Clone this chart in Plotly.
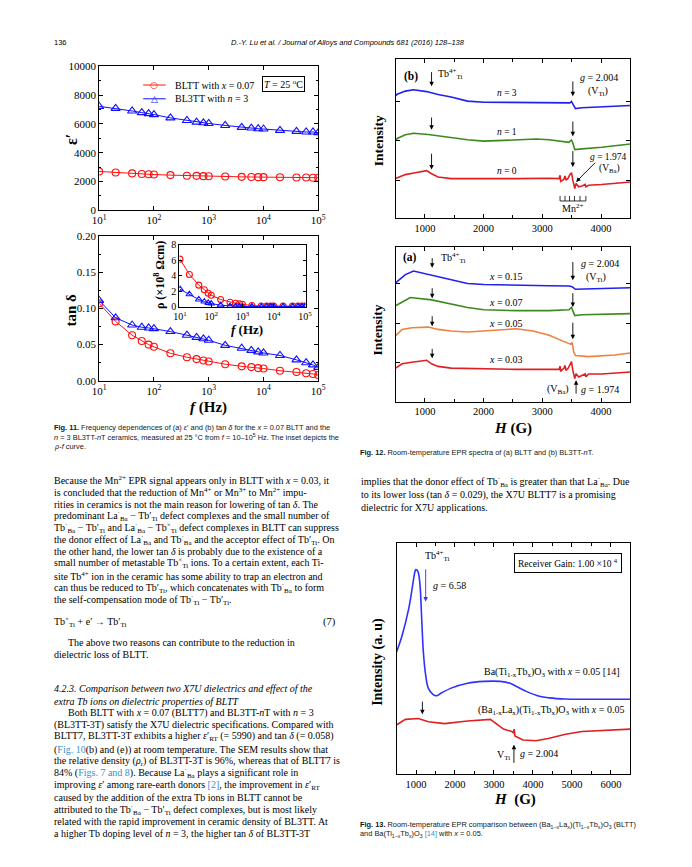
import plotly.graph_objects as go

PW, PH = 692, 867
def px(x): return x / PW
def py(y): return 1 - y / PH

SERIF = "Liberation Serif"
SANS = "Liberation Sans"
RED = "#ff1010"
BLUE = "#1010ff"
LINK = "#3a8fc8"

# ---------------- Fig. 11 data ----------------
freq = [10, 20, 40, 60, 80, 100, 200, 400, 600, 800, 1000, 2000, 4000, 6000, 8000,
        10000, 20000, 40000, 60000, 80000, 100000]
eps_bltt = [2694, 2620, 2560, 2520, 2500, 2480, 2440, 2400, 2390, 2370, 2360, 2340, 2320,
            2310, 2300, 2300, 2290, 2270, 2270, 2260, 2260]
eps_bl3tt = [7215, 7078, 6895, 6781, 6712, 6644, 6415, 6233, 6119, 6073, 6027, 5890, 5753,
             5708, 5662, 5640, 5548, 5480, 5434, 5434, 5388]
tan_bltt = [0.107, 0.082, 0.063, 0.055, 0.050, 0.047, 0.038, 0.0326, 0.030, 0.028, 0.0267,
            0.023, 0.020, 0.019, 0.0176, 0.017, 0.014, 0.0122, 0.0104, 0.0095, 0.008]
tan_bl3tt = [0.111, 0.087, 0.077, 0.074, 0.073, 0.072, 0.068, 0.063, 0.060, 0.058, 0.056,
             0.049, 0.045, 0.042, 0.040, 0.0385, 0.035, 0.029, 0.025, 0.022, 0.0186]
rho_bltt = [6.15, 4.17, 2.8, 2.2, 1.76, 1.5, 0.95, 0.6, 0.47, 0.39, 0.34, 0.17, 0.12, 0.1,
            0.1, 0.1, 0.1, 0.1, 0.1, 0.1, 0.1]
rho_bl3tt = [2.28, 1.63, 0.95, 0.69, 0.52, 0.43, 0.22, 0.09, 0.06, 0.05, 0.05, 0.05, 0.05,
             0.05, 0.05, 0.05, 0.05, 0.05, 0.05, 0.05, 0.05]
freq_ticks = [10, 100, 1000, 10000, 100000]
freq_ticktext = ["10<sup>1</sup>", "10<sup>2</sup>", "10<sup>3</sup>", "10<sup>4</sup>", "10<sup>5</sup>"]
eps_ticks = [0, 2000, 4000, 6000, 8000, 10000]
tan_ticks = [0, 0.05, 0.10, 0.15, 0.20]
rho_ticks = [0, 2, 4, 6, 8]
legend_names = ["BLTT with <i>x</i> = 0.07", "BL3TT with <i>n</i> = 3"]

# ---------------- Fig. 12(b) data (BL3TT-nT) ----------------
h_n3 = [500, 528, 667, 806, 1029, 1113, 1224, 1447, 1726, 2004, 2561, 3118, 3397, 3470, 3497,
        3520, 3553, 3564, 3675, 3954, 4500]
i_n3 = [77.2, 78.0, 80.0, 80.9, 79.7, 78.8, 77.9, 76.3, 73.7, 73.0, 72.8, 72.4, 72.2, 72.6,
        73.5, 71.9, 69.5, 69.0, 69.5, 70.1, 70.9]
h_n1 = [500, 528, 667, 806, 1057, 1224, 1447, 1726, 2004, 2561, 2896, 3118, 3230, 3453, 3497,
        3520, 3553, 3564, 3675, 4010, 4500]
i_n1 = [48.8, 50.2, 52.5, 53.5, 52.7, 51.8, 50.8, 49.4, 48.5, 49.2, 49.8, 49.4, 48.8, 47.7,
        49.2, 47.3, 43.2, 43.2, 43.6, 44.6, 46.7]
h_n0 = [500, 667, 834, 1029, 1113, 1224, 1447, 2004, 2561, 3118, 3286, 3302, 3313, 3369, 3386,
        3403, 3442, 3464, 3497, 3520, 3553, 3575, 3620, 3675, 3731, 3742, 3787, 4010, 4500]
i_n0 = [24.9, 27.4, 28.6, 29.9, 28.0, 25.9, 24.9, 24.7, 24.9, 25.1, 24.9, 27.0, 23.2, 24.5,
        26.6, 23.9, 25.3, 27.0, 28.6, 23.9, 18.7, 21.8, 19.7, 20.3, 21.2, 19.7, 20.7, 21.2, 22.8]
mn_lines = [3302, 3386, 3464, 3547, 3642, 3742]

# ---------------- Fig. 12(a) data (BLTT) ----------------
h_x15 = [500, 667, 806, 1113, 1447, 1726, 2004, 2561, 3118, 3453, 3508, 3564, 3787, 4500]
i_x15 = [76.7, 82.0, 84.3, 81.6, 78.8, 76.3, 75.6, 75.0, 74.8, 74.6, 74.2, 72.5, 72.7, 73.5]
h_x07 = [500, 750, 1113, 1447, 1726, 2004, 2561, 3118, 3453, 3497, 3520, 3553, 3675, 4500]
i_x07 = [61.9, 67.2, 65.7, 63.1, 60.8, 59.3, 58.7, 58.7, 59.3, 60.8, 58.3, 55.5, 56.1, 56.8]
h_x05 = [500, 611, 778, 1057, 1224, 1447, 1726, 2004, 2283, 2561, 2840, 3118, 3341, 3480,
         3508, 3536, 3564, 3787, 4233, 4500]
i_x05 = [42.4, 46.6, 47.7, 48.1, 46.6, 45.6, 44.9, 45.6, 46.6, 47.0, 45.6, 42.8, 39.2, 37.1,
         38.1, 31.8, 29.7, 29.0, 30.1, 31.4]
h_x03 = [500, 611, 778, 1029, 1113, 1224, 1447, 2004, 2561, 3118, 3286, 3302, 3313, 3369,
         3386, 3403, 3442, 3464, 3497, 3520, 3553, 3575, 3620, 3731, 3742, 3787, 4010, 4500]
i_x03 = [21.6, 24.4, 25.4, 26.7, 24.4, 22.7, 21.6, 21.0, 20.8, 20.8, 20.8, 22.9, 19.5, 21.6,
         23.3, 20.1, 21.6, 23.3, 25.8, 20.1, 14.8, 18.0, 15.9, 17.8, 16.0, 17.8, 17.8, 19.1]

# ---------------- Fig. 13 data ----------------
h_bto = [500, 643, 810, 880, 936, 970, 995, 1030, 1062, 1104, 1146, 1188, 1247, 1314, 1440,
         1524, 1649, 1901, 2321, 2740, 3160, 3411, 3579, 3831, 4166, 4418, 4838, 5257, 6500]
i_bto = [52.8, 59.9, 71.3, 78.0, 84.1, 87.3, 88.4, 88.0, 86.9, 81.3, 67.0, 52.8, 42.9, 37.2,
         34.4, 33.9, 35.1, 37.2, 39.3, 40.1, 40.1, 39.3, 37.9, 35.8, 33.7, 33.0, 32.5, 32.4, 32.4]
h_bltt = [500, 727, 1062, 1314, 1733, 2321, 2908, 3076, 3244, 3453, 3495, 3520, 3537, 3747,
          4083, 4418, 4838, 5257, 5761, 6500]
i_bltt = [21.3, 23.7, 24.1, 22.7, 21.9, 23.0, 23.7, 21.6, 19.5, 18.5, 18.0, 19.5, 16.6, 14.8,
          14.5, 15.6, 17.3, 18.5, 19.0, 19.5]

fig = go.Figure()

def mk_trace(x, y, color, sym, ax, size=7):
    fig.add_trace(go.Scatter(
        x=x, y=y, mode="lines+markers", showlegend=False,
        line=dict(color=color, width=1),
        marker=dict(symbol=sym, size=size, color=color, line=dict(width=1.1, color=color)),
        xaxis="x" + ax, yaxis="y" + ax))

mk_trace(freq, eps_bltt, RED, "circle-open", "")
mk_trace(freq, eps_bl3tt, BLUE, "triangle-up-open", "", 8)
mk_trace(freq, tan_bltt, RED, "circle-open", "2")
mk_trace(freq, tan_bl3tt, BLUE, "triangle-up-open", "2", 8)
mk_trace(freq, rho_bltt, RED, "circle-open", "3", 6)
mk_trace(freq, rho_bl3tt, BLUE, "triangle-up-open", "3", 6)

def line_trace(x, y, color, ax, shape="linear"):
    fig.add_trace(go.Scatter(x=x, y=y, mode="lines", showlegend=False,
                             line=dict(color=color, width=1.6, shape=shape),
                             xaxis="x" + ax, yaxis="y" + ax))

line_trace(h_n3, i_n3, "#2020f0", "4")
line_trace(h_n1, i_n1, "#3c8a1e", "4")
line_trace(h_n0, i_n0, "#e02020", "4")
line_trace(h_x15, i_x15, "#2020f0", "5")
line_trace(h_x07, i_x07, "#3c8a1e", "5")
line_trace(h_x05, i_x05, "#f08040", "5")
line_trace(h_x03, i_x03, "#e02020", "5")
line_trace(h_bto, i_bto, "#3030ff", "6", "spline")
line_trace(h_bltt, i_bltt, "#e02020", "6")

def axis(domain, anchor, fs=11, **kw):
    d = dict(domain=domain, anchor=anchor, showline=True, linecolor="black", linewidth=1,
             mirror="ticks", ticks="inside", ticklen=4, tickcolor="black", showgrid=False,
             zeroline=False, tickfont=dict(family=SERIF, size=fs, color="black"))
    d.update(kw)
    return d

XD11 = [px(86), px(310)]
XD12 = [px(389), px(629)]
MINOR_H = dict(dtick=500, tick0=500, ticks="inside", ticklen=3, tickcolor="black")
fig.update_layout(
    width=PW, height=PH, autosize=False,
    margin=dict(l=0, r=0, t=0, b=0),
    paper_bgcolor="white", plot_bgcolor="white",
    showlegend=False,
    xaxis=axis(XD11, "y", type="log", range=[1, 5], tickvals=freq_ticks, ticktext=freq_ticktext),
    yaxis=axis([py(199), py(53)], "x", range=[0, 10000], tickvals=eps_ticks,
               ticktext=[str(v) for v in eps_ticks],
               minor=dict(dtick=1000, ticks="inside", ticklen=2, tickcolor="black")),
    xaxis2=axis(XD11, "y2", type="log", range=[1, 5], tickvals=freq_ticks, ticktext=freq_ticktext),
    yaxis2=axis([py(372), py(225)], "x2", range=[0, 0.2], tickvals=tan_ticks,
                ticktext=["%.2f" % v for v in tan_ticks],
                minor=dict(dtick=0.025, ticks="inside", ticklen=2, tickcolor="black")),
    xaxis3=axis([px(168), px(297)], "y3", 10, type="log", range=[0.98, 5.02], tickvals=freq_ticks,
                ticktext=freq_ticktext, ticklen=3),
    yaxis3=axis([py(297), py(234)], "x3", 10, range=[0, 8], tickvals=rho_ticks, ticklen=3),
    xaxis4=axis(XD12, "y4", 10.5, range=[500, 4500], tickvals=[1000, 2000, 3000, 4000], minor=MINOR_H),
    yaxis4=axis([py(207), py(46)], "x4", range=[0, 100], tickvals=[23.9, 48.8, 73.4],
                showticklabels=False),
    xaxis5=axis(XD12, "y5", 10.5, range=[500, 4500], tickvals=[1000, 2000, 3000, 4000], minor=MINOR_H),
    yaxis5=axis([py(393), py(236)], "x5", range=[0, 100], tickvals=[25.4, 50.2, 76.3],
                showticklabels=False),
    xaxis6=axis([px(390), px(629)], "y6", 10.5, range=[500, 6500],
                tickvals=[1000, 2000, 3000, 4000, 5000, 6000], minor=MINOR_H),
    yaxis6=axis([py(771), py(536)], "x6", range=[0, 100], ticks="", showticklabels=False),
)

ann = []
shapes = []

def T(x, y, text, size=10.5, family=SERIF, xanchor="left", color="black", angle=0):
    ann.append(dict(x=px(x), y=py(y), xref="paper", yref="paper", text=text, showarrow=False,
                    xanchor=xanchor, yanchor="middle", textangle=angle,
                    font=dict(family=family, size=size, color=color)))

def ref(ax):
    return ("x" + ax, "y" + ax)

def D(ax, x, y, text, size=10, xanchor="left", **kw):
    xr, yr = ref(ax)
    d = dict(x=x, y=y, xref=xr, yref=yr, text=text, showarrow=False, xanchor=xanchor,
             yanchor="middle", font=dict(family=SERIF, size=size, color="black"))
    d.update(kw)
    ann.append(d)

def A(ax, x, ytail, yhead, color="black", xtail=None):
    xr, yr = ref(ax)
    ann.append(dict(x=x, y=yhead, ax=x if xtail is None else xtail, ay=ytail, xref=xr, yref=yr,
                    axref=xr, ayref=yr, text="", showarrow=True, arrowhead=2, arrowsize=1,
                    arrowwidth=0.9, arrowcolor=color))

# ---- header ----
T(38, 29, "136", 7.5, SANS)
T(340, 29, "<i>D.-Y. Lu et al. / Journal of Alloys and Compounds 681 (2016) 128\u2013138</i>", 7.5, SANS, "center")

# ---- Fig. 11 labels ----
D("", 10 ** 1.08, 8800, "<b>(a)</b>", 11.5)
# legend drawn by hand (short line samples as in the reference)
for (yy, col, sym, nm) in ((72, RED, "\u25cb", legend_names[0]), (86, BLUE, "\u25b3", legend_names[1])):
    shapes.append(dict(type="line", xref="paper", yref="paper", x0=px(131), x1=px(154),
                       y0=py(yy), y1=py(yy), line=dict(color=col, width=1)))
    ann.append(dict(x=px(142.5), y=py(yy), xref="paper", yref="paper", text=sym, showarrow=False,
                    xanchor="center", yanchor="middle",
                    font=dict(family="DejaVu Sans", size=9, color=col)))
    T(161, yy, nm, 10, SERIF)
ann.append(dict(x=px(274.5), y=py(70.5), xref="paper", yref="paper",
                text="<i>T</i> = 25 <sup>o</sup>C", showarrow=False, xanchor="center",
                yanchor="middle", bordercolor="black", borderwidth=1, borderpad=1,
                bgcolor="white", font=dict(family=SERIF, size=10, color="black")))
D("2", 10 ** 1.08, 0.174, "<b>(b)</b>", 11.5)
T(57, 127, "<b>\u03b5\u2032</b>", 16, SERIF, "center", angle=-90)
T(57, 300, "<b>tan \u03b4</b>", 15, SERIF, "center", angle=-90)
T(198, 399, "<b><i>f</i> (Hz)</b>", 15, SERIF, "center")
T(148, 265, "<b>\u03c1 (\u00d710<sup>8</sup> \u03a9cm)</b>", 12, SERIF, "center", angle=-90)
T(237, 320, "<b><i>f</i> (Hz)</b>", 13, SERIF, "center")

# ---- Fig. 12 labels ----
for ax, ycen in (("4", 128), ("5", 320)):
    T(371, ycen, "<b>Intensity</b>", 13.5, SERIF, "center", angle=-90)
T(509, 420, "<b><i>H</i> (G)</b>", 15, SERIF, "center")

# (b) BL3TT-nT
D("4", 610, 89.2, "<b>(b)</b>", 11.5)
D("4", 1196, 90.5, "Tb<sup>4+</sup><sub>Ti</sub>", 10)
for yt, yh in ((92.9, 83.0), (64.3, 55.6), (41.5, 30.7)):
    A("4", 1113, yt, yh)
for yt, yh in ((87.1, 76.8), (61.8, 51.5), (43.2, 32.2)):
    A("4", 3520, yt, yh)
D("4", 3609, 88.8, "<i>g</i> = 2.004", 10)
D("4", 3742, 79.9, "(V<sub>Ti</sub>)", 10)
D("4", 2394, 78.8, "<i>n</i> = 3", 9.5, "center")
D("4", 2394, 54.4, "<i>n</i> = 1", 9.5, "center")
D("4", 2394, 29.5, "<i>n</i> = 0", 9.5, "center")
D("4", 3776, 38.4, "<i>g</i> = 1.974", 9.5)
D("4", 3926, 31.5, "(V<sub>Ba</sub>)", 9.5)
A("4", 3575, 35.9, 22.8, xtail=3926)
shapes.append(dict(type="line", xref="x4", yref="y4", x0=mn_lines[0], x1=mn_lines[-1],
                   y0=10.8, y1=10.8, line=dict(color="black", width=0.8)))
for h in mn_lines:
    shapes.append(dict(type="line", xref="x4", yref="y4", x0=h, x1=h, y0=10.8, y1=14.0,
                       line=dict(color="black", width=0.8)))
D("4", 3520, 6.4, "Mn<sup>2+</sup>", 10, "center")

# (a) BLTT
D("5", 600, 92.8, "<b>(a)</b>", 11.5)
D("5", 1235, 92.8, "Tb<sup>4+</sup><sub>Ti</sub>", 10)
for yt, yh in ((93.6, 86.4), (74.2, 66.7), (56.1, 48.7), (35.0, 28.0)):
    A("5", 1124, yt, yh)
for yt, yh in ((91.1, 78.4), (71.0, 61.0), (51.9, 40.3)):
    A("5", 3520, yt, yh)
D("5", 3620, 89.4, "<i>g</i> = 2.004", 10)
D("5", 3703, 79.9, "(V<sub>Ti</sub>)", 10)
D("5", 2383, 80.9, "<i>x</i> = 0.15", 10, "center")
D("5", 2383, 64.0, "<i>x</i> = 0.07", 10, "center")
D("5", 2383, 50.4, "<i>x</i> = 0.05", 10, "center")
D("5", 2383, 26.9, "<i>x</i> = 0.03", 10, "center")
A("5", 3575, 4.2, 13.8)
D("5", 3497, 8.1, "(V<sub>Ba</sub>)", 10, "right")
D("5", 3631, 8.1, "<i>g</i> = 1.974", 10)

# ---- Fig. 13 labels ----
T(371, 657, "<b>Intensity (a. u)</b>", 14, SERIF, "center", angle=-90)
T(511, 797, "<b><i>H</i>  (G)</b>", 15, SERIF, "center")
D("6", 1188, 94.0, "Tb<sup>4+</sup><sub>Ti</sub>", 10)
A("6", 1247, 89.1, 74.6, color="#3030ff")
D("6", 1373, 81.3, "<i>g</i> = 6.58", 10)
D("6", 4888, 91.2, "Receiver Gain: 1.00 \u00d710 <sup>4</sup>", 9.5, "center",
  bordercolor="black", borderwidth=1, borderpad=3)
D("6", 6281, 44.0, "Ba(Ti<sub>1-x</sub>Tb<sub>x</sub>)O<sub>3</sub> with <i>x</i> = 0.05 [14]", 10, "right")
D("6", 6390, 27.6, "(Ba<sub>1-x</sub>La<sub>x</sub>)(Ti<sub>1-x</sub>Tb<sub>x</sub>)O<sub>3</sub> with <i>x</i> = 0.05", 10, "right")
A("6", 1163, 32.0, 25.9)
D("6", 3453, 8.1, "V<sub>Ti</sub>", 10, "right")
A("6", 3512, 4.3, 12.8)
D("6", 3621, 8.8, "<i>g</i> = 2.004", 10)

# ---- captions ----
CAP = 7.4
CC = "#151515"
T(38, 419, "<b>Fig. 11.</b> Frequency dependences of (a) <i>\u03b5</i>\u2032 and (b) tan <i>\u03b4</i> for the <i>x</i> = 0.07 BLTT and the", CAP, SANS, color=CC)
T(38, 429, "<i>n</i> = 3 BL3TT-<i>n</i>T ceramics, measured at 25 \u00b0C from <i>f</i> = 10\u201310<sup>5</sup> Hz. The inset depicts the", CAP, SANS, color=CC)
T(38, 439, "<i>\u03c1</i>-<i>f</i> curve.", CAP, SANS, color=CC)
T(351, 445, "<b>Fig. 12.</b> Room-temperature EPR spectra of (a) BLTT and (b) BL3TT-<i>n</i>T.", CAP, SANS, color=CC)
T(351, 822, "<b>Fig. 13.</b> Room-temperature EPR comparison between (Ba<sub>1\u2212x</sub>La<sub>x</sub>)(Ti<sub>1\u2212x</sub>Tb<sub>x</sub>)O<sub>3</sub> (BLTT)", CAP, SANS, color=CC)
T(351, 832, "and Ba(Ti<sub>1\u2212x</sub>Tb<sub>x</sub>)O<sub>3</sub> <span style='color:%s'>[14]</span> with <i>x</i> = 0.05." % LINK, CAP, SANS, color=CC)

# ---- body text ----
BA = "<sup>\u00b7</sup><sub>Ba</sub>"
TI = "\u2032<sub>Ti</sub>"
TX = "<sup>\u00d7</sup><sub>Ti</sub>"
def lk(s):
    return "<span style='color:%s'>%s</span>" % (LINK, s)

body = [
    (38, 473, "Because the Mn<sup>2+</sup> EPR signal appears only in BLTT with <i>x</i> = 0.03, it"),
    (38, 485, "is concluded that the reduction of Mn<sup>4+</sup> or Mn<sup>3+</sup> to Mn<sup>2+</sup> impu-"),
    (38, 497, "rities in ceramics is not the main reason for lowering of tan <i>\u03b4</i>. The"),
    (38, 509, "predominant La" + BA + " \u2212 Tb" + TI + " defect complexes and the small number of"),
    (38, 521, "Tb" + BA + " \u2212 Tb" + TI + " and La" + BA + " \u2212 Tb" + TX + " defect complexes in BLTT can suppress"),
    (38, 533, "the donor effect of La" + BA + " and Tb" + BA + " and the acceptor effect of Tb" + TI + ". On"),
    (38, 545, "the other hand, the lower tan <i>\u03b4</i> is probably due to the existence of a"),
    (38, 557, "small number of metastable Tb" + TX + " ions. To a certain extent, each Ti-"),
    (38, 570, "site Tb<sup>4+</sup> ion in the ceramic has some ability to trap an electron and"),
    (38, 582, "can thus be reduced to Tb" + TI + ", which concatenates with Tb" + BA + " to form"),
    (38, 594, "the self-compensation mode of Tb<sup>\u00b7</sup><sub>Ti</sub> \u2212 Tb" + TI + "."),
    (38, 617, "Tb" + TX + " + e\u2032 \u2192 Tb" + TI),
    (52, 637, "The above two reasons can contribute to the reduction in"),
    (38, 649, "dielectric loss of BLTT."),
    (38, 684, "<i>4.2.3. Comparison between two X7U dielectrics and effect of the</i>"),
    (38, 697, "<i>extra Tb ions on dielectric properties of BLTT</i>"),
    (52, 709, "Both BLTT with <i>x</i> = 0.07 (BLTT7) and BL3TT-<i>n</i>T with <i>n</i> = 3"),
    (38, 721, "(BL3TT-3T) satisfy the X7U dielectric specifications. Compared with"),
    (38, 733, "BLTT7, BL3TT-3T exhibits a higher <i>\u03b5</i>\u2032<sub>RT</sub> (= 5990) and tan <i>\u03b4</i> (= 0.058)"),
    (38, 746, "(" + lk("Fig. 10") + "(b) and (e)) at room temperature. The SEM results show that"),
    (38, 758, "the relative density (<i>\u03c1</i><sub>r</sub>) of BL3TT-3T is 96%, whereas that of BLTT7 is"),
    (38, 770, "84% (" + lk("Figs. 7 and 8") + "). Because La" + BA + " plays a significant role in"),
    (38, 782, "improving <i>\u03b5</i>\u2032 among rare-earth donors " + lk("[2]") + ", the improvement in <i>\u03b5</i>\u2032<sub>RT</sub>"),
    (38, 794, "caused by the addition of the extra Tb ions in BLTT cannot be"),
    (38, 807, "attributed to the Tb" + BA + " \u2212 Tb" + TI + " defect complexes, but is most likely"),
    (38, 819, "related with the rapid improvement in ceramic density of BL3TT. At"),
    (38, 831, "a higher Tb doping level of <i>n</i> = 3, the higher tan <i>\u03b4</i> of BL3TT-3T"),
    (352, 475, "implies that the donor effect of Tb" + BA + " is greater than that La" + BA + ". Due"),
    (352, 488, "to its lower loss (tan <i>\u03b4</i> = 0.029), the X7U BLTT7 is a promising"),
    (352, 500, "dielectric for X7U applications."),
]
for x, y, t in body:
    T(x, y, t, 10, SERIF)
T(330, 617, "(7)", 10.5, SERIF, "right")

fig.update_layout(annotations=ann, shapes=shapes)
fig.write_html("out.html")
